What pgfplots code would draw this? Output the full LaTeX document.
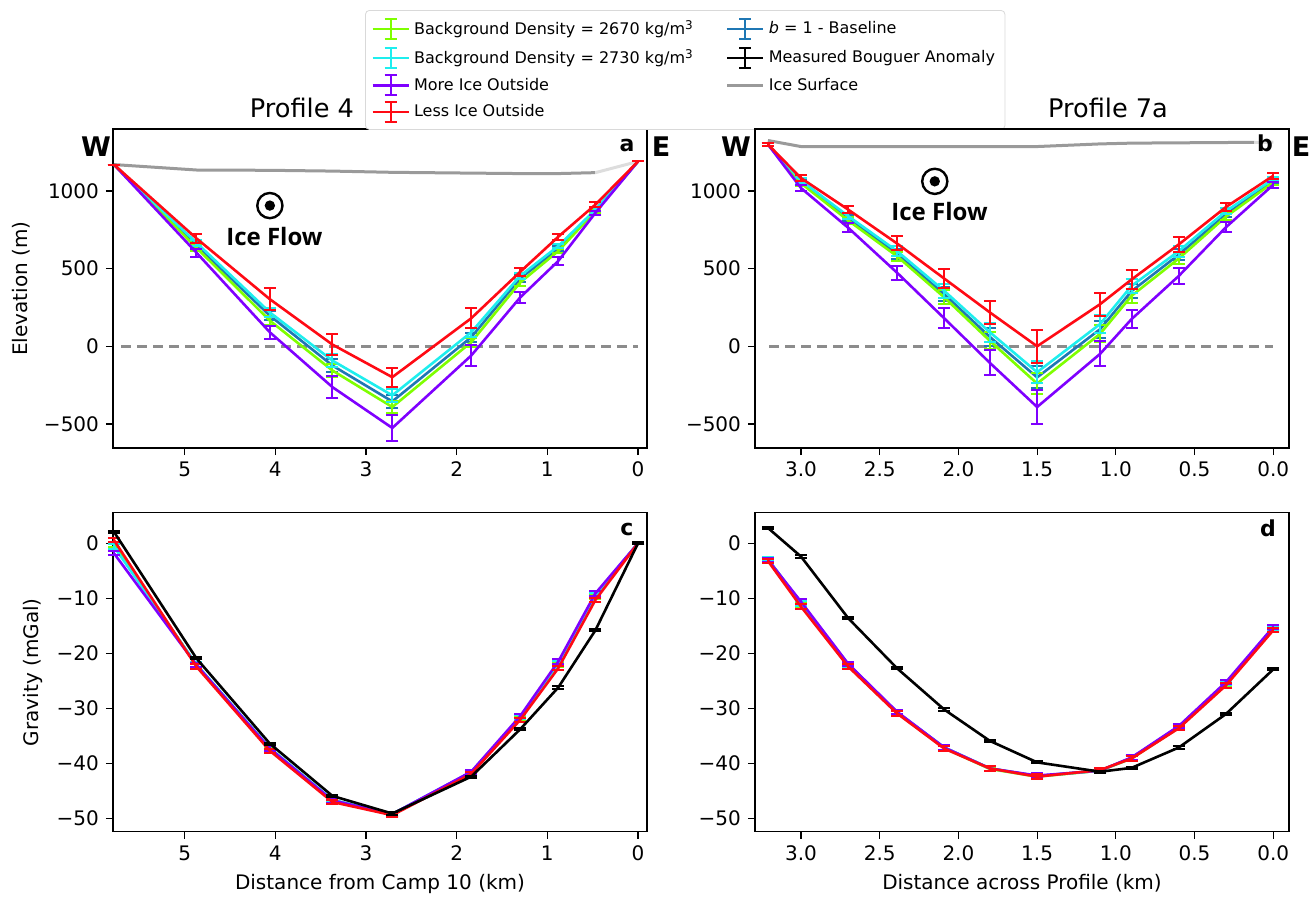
\documentclass[border=0pt]{standalone}
\usepackage{pgfplots}
\pgfplotsset{compat=1.18}
\usepackage{fontspec}
\setmainfont{DejaVu Sans}
\newfontfamily\flowfont{Open Sans}
\definecolor{cgreen}{HTML}{7FFF00}
\definecolor{ccyan}{HTML}{1EEEEE}
\definecolor{cpurple}{HTML}{7F00FF}
\definecolor{cred}{HTML}{FF0A14}
\definecolor{cblue}{HTML}{1F77B4}
\definecolor{cgray}{HTML}{8C8C8C}
\definecolor{cice}{HTML}{9A9A9A}
\definecolor{clight}{HTML}{DDDDDD}
\pgfplotsset{
  myax/.style={scale only axis, width=267pt, height=159.5pt, x dir=reverse,
    axis line style={line width=0.6pt}, tick style={black, line width=0.6pt},
    tick align=outside, xtick pos=bottom, ytick pos=left, major tick length=3.5pt,
    tick label style={font=\fontsize{10}{12}\selectfont},
    label style={font=\fontsize{10}{12}\selectfont},
    clip=false},
  ser/.style={line width=1.3pt, mark=none, forget plot,
    error bars/.cd, y dir=both, y explicit,
    error bar style={line width=1pt},
    error mark options={line width=1pt, mark size=3pt, rotate=90}},
}
\newcommand\ebimg[1]{\addlegendimage{legend image code/.code={
  \draw[#1,line width=1.3pt] (0pt,0pt) -- (18pt,0pt);
  \draw[#1,line width=1pt] (9pt,-5pt) -- (9pt,5pt);
  \draw[#1,line width=1pt] (6pt,-5pt) -- (12pt,-5pt) (6pt,5pt) -- (12pt,5pt);}}}
\begin{document}
\begin{tikzpicture}
\useasboundingbox (0,0) rectangle (657.5pt,448pt);
% ---------------- panel a ----------------
\begin{axis}[myax, at={(56.5pt,224pt)}, anchor=south west,
  xmin=-0.099, xmax=5.79, ymin=-655, ymax=1399,
  xtick={0,1,2,3,4,5}, xticklabels={0,1,2,3,4,5},
  ytick={-500,0,500,1000}, yticklabels={−500,0,500,1000},
  ylabel={Elevation (m)},
  legend columns=2,
  legend style={at={(0.472,1.373)}, anchor=north west, draw=black!15, rounded corners=2pt,
    font=\fontsize{8}{10}\selectfont, row sep=1.6pt, inner sep=3pt,
    /tikz/every even column/.append style={column sep=14pt}},
  legend cell align=left]
\addplot[cice, line width=1.5pt, forget plot] coordinates {(5.78,1170)(4.87,1135)(4.06,1133)(3.37,1128)(2.71,1120)(1.84,1115)(1.30,1112)(0.88,1112)(0.47,1118)};
\addplot[clight, line width=1.5pt, forget plot] coordinates {(0.47,1118)(0,1190)};
\addplot[cgray, line width=1.3pt, dash pattern=on 5pt off 3pt, forget plot] coordinates {(5.7,0)(0,0)};
\addplot[cblue, ser] table[x=x,y=y,y error=e] {
x y e
5.78 1170 0
4.87 650 20
4.06 197 30
3.37 -124 40
2.71 -355 40
1.84 58 30
1.30 436 20
0.88 628 15
0.47 876 12
0 1190 0
};
\addplot[cgreen, ser] table[x=x,y=y,y error=e] {
x y e
5.78 1170 0
4.87 635 20
4.06 165 30
3.37 -156 40
2.71 -391 40
1.84 26 30
1.30 410 20
0.88 613 15
0.47 870 12
0 1190 0
};
\addplot[ccyan, ser] table[x=x,y=y,y error=e] {
x y e
5.78 1170 0
4.87 667 20
4.06 218 30
3.37 -92 40
2.71 -316 40
1.84 90 30
1.30 453 20
0.88 645 15
0.47 880 12
0 1190 0
};
\addplot[cpurple, ser] table[x=x,y=y,y error=e] {
x y e
5.78 1170 0
4.87 603 25
4.06 90 40
3.37 -263 70
2.71 -526 85
1.84 -60 70
1.30 314 35
0.88 549 25
0.47 859 15
0 1190 0
};
\addplot[cred, ser] table[x=x,y=y,y error=e] {
x y e
5.78 1170 0
4.87 695 30
4.06 303 70
3.37 11 65
2.71 -199 60
1.84 180 65
1.30 479 25
0.88 705 20
0.47 912 15
0 1190 0
};
\draw[line width=1.2pt] (axis cs:4.06,906) circle[radius=6.3pt];
\fill (axis cs:4.06,906) circle[radius=2.6pt];
\node[font=\flowfont\bfseries\fontsize{12}{14}\selectfont] at (axis cs:4.01,709) {Ice Flow};
\ebimg{cgreen}\addlegendentry{Background Density = 2670 kg/m\textsuperscript{3}}
\ebimg{cblue}\addlegendentry{\textit{b} = 1 - Baseline}
\ebimg{ccyan}\addlegendentry{Background Density = 2730 kg/m\textsuperscript{3}}
\ebimg{black}\addlegendentry{Measured Bouguer Anomaly}
\ebimg{cpurple}\addlegendentry{More Ice Outside}
\addlegendimage{legend image code/.code={\draw[cice,line width=1.5pt] (0pt,0pt) -- (18pt,0pt);}}\addlegendentry{Ice Surface}
\ebimg{cred}\addlegendentry{Less Ice Outside}
\end{axis}
% ---------------- panel b ----------------
\begin{axis}[myax, at={(377.5pt,224pt)}, anchor=south west,
  xmin=-0.1, xmax=3.292, ymin=-655, ymax=1399,
  xtick={0,0.5,1,1.5,2,2.5,3}, xticklabels={0.0,0.5,1.0,1.5,2.0,2.5,3.0},
  ytick={-500,0,500,1000}, yticklabels={−500,0,500,1000}]
\addplot[cice, line width=1.5pt, forget plot] coordinates {(3.21,1325)(3.0,1286)(2.7,1286)(2.39,1286)(2.09,1286)(1.8,1286)(1.5,1286)(1.1,1303)(0.9,1308)(0.6,1310)(0.3,1312)(0.12,1313)};
\addplot[clight, line width=1.5pt, forget plot] coordinates {(0.12,1313)(0,1314)};
\addplot[cgray, line width=1.3pt, dash pattern=on 5pt off 3pt, forget plot] coordinates {(3.2,0)(0,0)};
\addplot[cblue, ser] table[x=x,y=y,y error=e] {
x y e
3.21 1300 8
3.0 1060 15
2.7 825 20
2.39 595 30
2.09 335 45
1.8 60 55
1.5 -200 70
1.1 110 55
0.9 355 45
0.6 590 35
0.3 850 20
0 1065 15
};
\addplot[cgreen, ser] table[x=x,y=y,y error=e] {
x y e
3.21 1300 8
3.0 1050 15
2.7 810 20
2.39 580 30
2.09 315 45
1.8 35 55
1.5 -240 70
1.1 80 55
0.9 325 45
0.6 565 35
0.3 835 20
0 1055 15
};
\addplot[ccyan, ser] table[x=x,y=y,y error=e] {
x y e
3.21 1300 8
3.0 1068 15
2.7 838 20
2.39 613 30
2.09 357 45
1.8 90 60
1.5 -167 70
1.1 143 60
0.9 389 45
0.6 613 35
0.3 870 20
0 1077 15
};
\addplot[cpurple, ser] table[x=x,y=y,y error=e] {
x y e
3.21 1300 10
3.0 1019 20
2.7 763 30
2.39 474 45
2.09 180 65
1.8 -107 80
1.5 -391 110
1.1 -49 80
0.9 175 60
0.6 453 50
0.3 767 30
0 1040 20
};
\addplot[cred, ser] table[x=x,y=y,y error=e] {
x y e
3.21 1300 10
3.0 1083 20
2.7 880 20
2.39 662 45
2.09 436 60
1.8 218 75
1.5 0 105
1.1 271 75
0.9 430 60
0.6 656 50
0.3 897 25
0 1098 20
};
\draw[line width=1.2pt] (axis cs:2.15,1062) circle[radius=6.3pt];
\fill (axis cs:2.15,1062) circle[radius=2.6pt];
\node[font=\flowfont\bfseries\fontsize{12}{14}\selectfont] at (axis cs:2.12,870) {Ice Flow};
\end{axis}
% ---------------- panel c ----------------
\begin{axis}[myax, at={(56.5pt,32.15pt)}, anchor=south west,
  xmin=-0.099, xmax=5.79, ymin=-52.4, ymax=5.56,
  xtick={0,1,2,3,4,5}, xticklabels={0,1,2,3,4,5},
  ytick={-50,-40,-30,-20,-10,0}, yticklabels={−50,−40,−30,−20,−10,0},
  ylabel={Gravity (mGal)}, xlabel={Distance from Camp 10 (km)}]
\addplot[cblue, ser] table[x=x,y=y,y error=e] {
x y e
5.78 -0.4 0.4
4.87 -22.1 0.4
4.06 -37.3 0.4
3.37 -46.7 0.4
2.71 -49.2 0.4
1.84 -41.6 0.4
1.30 -31.7 0.4
0.88 -21.9 0.4
0.47 -9.5 0.4
0 0 0.2
};
\addplot[cgreen, ser] table[x=x,y=y,y error=e] {
x y e
5.78 -0.2 0.4
4.87 -22.2 0.4
4.06 -37.4 0.4
3.37 -46.8 0.4
2.71 -49.3 0.4
1.84 -41.7 0.4
1.30 -31.8 0.4
0.88 -22.0 0.4
0.47 -9.7 0.4
0 0 0.2
};
\addplot[ccyan, ser] table[x=x,y=y,y error=e] {
x y e
5.78 -0.6 0.4
4.87 -22.0 0.4
4.06 -37.2 0.4
3.37 -46.6 0.4
2.71 -49.2 0.4
1.84 -41.6 0.4
1.30 -31.6 0.4
0.88 -21.8 0.4
0.47 -9.4 0.4
0 0 0.2
};
\addplot[cpurple, ser] table[x=x,y=y,y error=e] {
x y e
5.78 -1.8 0.4
4.87 -22.1 0.4
4.06 -37.3 0.4
3.37 -46.7 0.4
2.71 -49.2 0.4
1.84 -41.5 0.4
1.30 -31.4 0.4
0.88 -21.5 0.4
0.47 -9.1 0.4
0 0 0.2
};
\addplot[cred, ser] table[x=x,y=y,y error=e] {
x y e
5.78 0.6 0.4
4.87 -22.4 0.4
4.06 -37.7 0.4
3.37 -47.0 0.4
2.71 -49.4 0.4
1.84 -41.9 0.4
1.30 -32.1 0.4
0.88 -22.7 0.4
0.47 -10.3 0.4
0 0 0.2
};
\addplot[black, ser] table[x=x,y=y,y error=e] {
x y e
5.78 2.1 0.2
4.87 -20.9 0.2
4.06 -36.4 0.2
3.37 -45.9 0.2
2.71 -49.1 0.2
1.84 -42.4 0.2
1.30 -33.8 0.2
0.88 -26.2 0.2
0.47 -15.8 0.2
0 0 0.2
};
\end{axis}
% ---------------- panel d ----------------
\begin{axis}[myax, at={(377.5pt,32.15pt)}, anchor=south west,
  xmin=-0.1, xmax=3.292, ymin=-52.4, ymax=5.56,
  xtick={0,0.5,1,1.5,2,2.5,3}, xticklabels={0.0,0.5,1.0,1.5,2.0,2.5,3.0},
  ytick={-50,-40,-30,-20,-10,0}, yticklabels={−50,−40,−30,−20,−10,0},
  xlabel={Distance across Profile (km)}]
\addplot[cblue, ser] table[x=x,y=y,y error=e] {
x y e
3.21 -2.9 0.4
3.0 -10.8 0.4
2.7 -22.0 0.4
2.39 -30.7 0.4
2.09 -37.1 0.4
1.8 -40.9 0.4
1.5 -42.3 0.4
1.1 -41.3 0.4
0.9 -39.0 0.4
0.6 -33.3 0.4
0.3 -25.4 0.4
0 -15.4 0.4
};
\addplot[cgreen, ser] table[x=x,y=y,y error=e] {
x y e
3.21 -3.1 0.4
3.0 -11.2 0.4
2.7 -22.2 0.4
2.39 -30.8 0.4
2.09 -37.2 0.4
1.8 -41.0 0.4
1.5 -42.4 0.4
1.1 -41.3 0.4
0.9 -39.1 0.4
0.6 -33.5 0.4
0.3 -25.6 0.4
0 -15.6 0.4
};
\addplot[ccyan, ser] table[x=x,y=y,y error=e] {
x y e
3.21 -2.9 0.4
3.0 -10.9 0.4
2.7 -22.1 0.4
2.39 -30.7 0.4
2.09 -37.1 0.4
1.8 -40.9 0.4
1.5 -42.3 0.4
1.1 -41.3 0.4
0.9 -39.0 0.4
0.6 -33.3 0.4
0.3 -25.4 0.4
0 -15.4 0.4
};
\addplot[cpurple, ser] table[x=x,y=y,y error=e] {
x y e
3.21 -3.0 0.4
3.0 -10.6 0.4
2.7 -21.9 0.4
2.39 -30.6 0.4
2.09 -37.1 0.4
1.8 -40.9 0.4
1.5 -42.2 0.4
1.1 -41.3 0.4
0.9 -38.9 0.4
0.6 -33.2 0.4
0.3 -25.2 0.4
0 -15.2 0.4
};
\addplot[cred, ser] table[x=x,y=y,y error=e] {
x y e
3.21 -3.2 0.4
3.0 -11.5 0.4
2.7 -22.4 0.4
2.39 -30.9 0.4
2.09 -37.3 0.4
1.8 -40.9 0.4
1.5 -42.4 0.4
1.1 -41.2 0.4
0.9 -39.1 0.4
0.6 -33.6 0.4
0.3 -25.8 0.4
0 -15.8 0.4
};
\addplot[black, ser] table[x=x,y=y,y error=e] {
x y e
3.21 2.8 0.2
3.0 -2.4 0.2
2.7 -13.6 0.2
2.39 -22.7 0.2
2.09 -30.2 0.2
1.8 -35.9 0.2
1.5 -39.8 0.2
1.1 -41.5 0.2
0.9 -40.8 0.2
0.6 -37.1 0.2
0.3 -31.0 0.2
0 -22.9 0.2
};
\end{axis}
% ---------------- annotations ----------------
\node[anchor=base, font=\fontsize{12.8}{15}\selectfont] at (151pt,389pt) {Profile 4};
\node[anchor=base, font=\fontsize{12.8}{15}\selectfont] at (554pt,389pt) {Profile 7a};
\node[font=\bfseries\fontsize{13.5}{16}\selectfont] at (48pt,374.5pt) {W};
\node[font=\bfseries\fontsize{13.5}{16}\selectfont] at (330.5pt,374.5pt) {E};
\node[font=\bfseries\fontsize{13.5}{16}\selectfont] at (368pt,374.5pt) {W};
\node[font=\bfseries\fontsize{13.5}{16}\selectfont] at (650.5pt,374.5pt) {E};
\node[font=\bfseries\fontsize{11}{13}\selectfont] at (313.5pt,375.5pt) {a};
\node[font=\bfseries\fontsize{11}{13}\selectfont] at (632.5pt,376.5pt) {b};
\node[font=\bfseries\fontsize{11}{13}\selectfont] at (313.5pt,183.5pt) {c};
\node[font=\bfseries\fontsize{11}{13}\selectfont] at (634pt,184pt) {d};
\end{tikzpicture}
\end{document}
